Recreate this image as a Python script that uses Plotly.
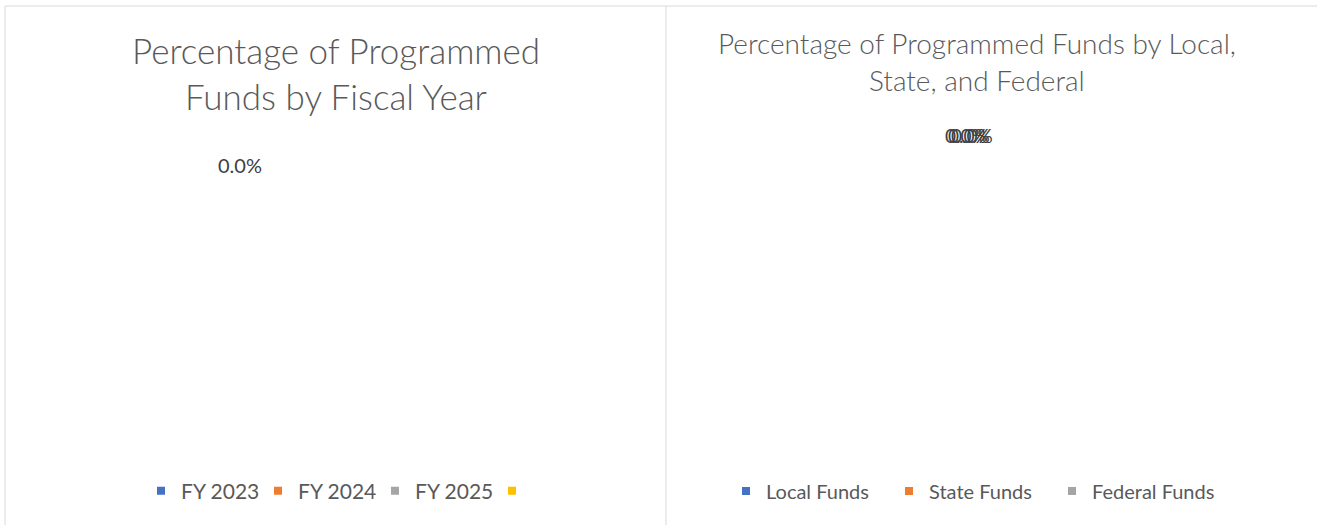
import plotly.graph_objects as go

# Fiscal-year breakdown (all programmed amounts are currently zero)
fy_labels = ["FY 2023", "FY 2024", "FY 2025", " "]
fy_values = [0, 0, 0, 0]
fy_colors = ["#4472C4", "#ED7D31", "#A5A5A5", "#FFC000"]

# Funding-source breakdown
src_labels = ["Local Funds", "State Funds", "Federal Funds"]
src_values = [0, 0, 0]
src_colors = ["#4472C4", "#ED7D31", "#A5A5A5"]

W, H = 1317, 525
FONT = "Lato"
TEXT = "#595959"
LABEL = "#404040"
GRID = "#d9d9d9"


def px(x):
    return x / W


def py(y):
    return 1 - y / H


def pct_text(values, i):
    total = sum(values)
    share = values[i] / total if total else 0.0
    return f"{share:.1%}"


fig = go.Figure()

# The two pies (zero-valued slices draw nothing)
fig.add_trace(go.Pie(
    labels=fy_labels, values=fy_values, sort=False, textinfo="none",
    marker=dict(colors=fy_colors, line=dict(color="white", width=1)),
    domain=dict(x=[px(60), px(610)], y=[py(450), py(190)]),
    showlegend=False, hoverinfo="label+percent",
))
fig.add_trace(go.Pie(
    labels=src_labels, values=src_values, sort=False, textinfo="none",
    marker=dict(colors=src_colors, line=dict(color="white", width=1)),
    domain=dict(x=[px(720), px(1260)], y=[py(450), py(160)]),
    showlegend=False, hoverinfo="label+percent",
))

# Legend keys for each slice
for name, color in zip(fy_labels, fy_colors):
    fig.add_trace(go.Scatter(
        x=[None], y=[None], mode="markers", name=name, legend="legend",
        marker=dict(symbol="square", size=8, color=color, line=dict(width=0)),
    ))
for name, color in zip(src_labels, src_colors):
    fig.add_trace(go.Scatter(
        x=[None], y=[None], mode="markers", name=name, legend="legend2",
        marker=dict(symbol="square", size=8, color=color, line=dict(width=0)),
    ))

# Chart-area borders
line_style = dict(color=GRID, width=1)
shapes = [
    dict(type="line", xref="paper", yref="paper", x0=px(5), x1=1, y0=py(6), y1=py(6), line=line_style),
    dict(type="line", xref="paper", yref="paper", x0=px(5), x1=px(5), y0=py(6), y1=0, line=line_style),
    dict(type="line", xref="paper", yref="paper", x0=px(666), x1=px(666), y0=py(6), y1=0, line=line_style),
]

annotations = []
# Titles, one annotation per line
for text, x, y, size in [
    ("Percentage of Programmed", 336, 50, 35),
    ("Funds by Fiscal Year", 336, 96, 35),
    ("Percentage of Programmed Funds by Local,", 977, 43, 28),
    ("State, and Federal", 977, 80, 28),
]:
    annotations.append(dict(
        text=text, x=px(x), y=py(y), xref="paper", yref="paper",
        xanchor="center", yanchor="middle", showarrow=False,
        font=dict(family=FONT, size=size, color=TEXT, weight=300),
    ))

# Data labels
annotations.append(dict(
    text=pct_text(fy_values, 0), x=px(240), y=py(165), xref="paper", yref="paper",
    xanchor="center", yanchor="middle", showarrow=False,
    font=dict(family=FONT, size=20, color=LABEL),
))
for i, dx in enumerate([-3, 0, 3]):
    annotations.append(dict(
        text=pct_text(src_values, i), x=px(969 + dx), y=py(135), xref="paper", yref="paper",
        xanchor="center", yanchor="middle", showarrow=False,
        font=dict(family=FONT, size=19, color=LABEL),
    ))

legend_common = dict(
    orientation="h", yanchor="middle", xanchor="left",
    bgcolor="rgba(0,0,0,0)", borderwidth=0, itemsizing="trace",
    entrywidthmode="pixels", itemclick=False, itemdoubleclick=False,
)

fig.update_layout(
    width=W, height=H,
    margin=dict(l=0, r=0, t=0, b=0),
    paper_bgcolor="white", plot_bgcolor="white",
    font=dict(family=FONT, color=TEXT),
    xaxis=dict(visible=False), yaxis=dict(visible=False),
    shapes=shapes,
    annotations=annotations,
    legend=dict(legend_common, x=px(141), y=py(491), entrywidth=72,
                font=dict(family=FONT, size=21, color=TEXT)),
    legend2=dict(legend_common, x=px(726), y=py(491), entrywidth=118,
                 font=dict(family=FONT, size=20, color=TEXT)),
)

fig.write_html("out.html")
